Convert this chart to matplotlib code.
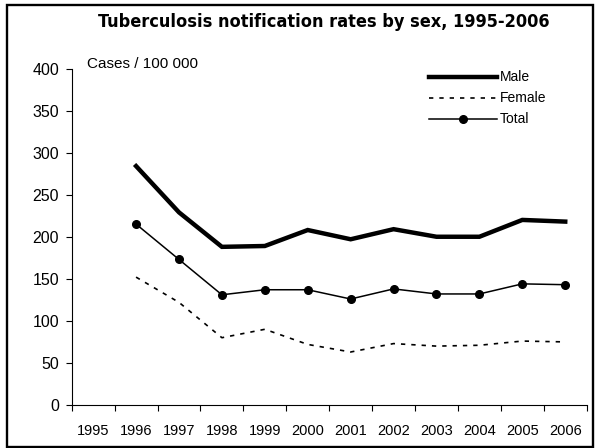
import matplotlib
matplotlib.use("Agg")
import matplotlib.pyplot as plt
from matplotlib.patches import Rectangle
from matplotlib.ticker import FixedLocator, NullFormatter

years = ["1995", "1996", "1997", "1998", "1999", "2000", "2001", "2002", "2003", "2004", "2005", "2006"]
data_years = ["1996", "1997", "1998", "1999", "2000", "2001", "2002", "2003", "2004", "2005", "2006"]
male = [284, 229, 188, 189, 208, 197, 209, 200, 200, 220, 218]
female = [152, 122, 80, 90, 72, 63, 73, 70, 71, 76, 75]
total = [215, 173, 131, 137, 137, 126, 138, 132, 132, 144, 143]

W, H = 595, 448
plt.rcParams['font.family'] = ['Liberation Sans', 'DejaVu Sans']

fig = plt.figure(figsize=(W/100, H/100), dpi=100)
ax = fig.add_axes([71.7/W, 1-405/H, 515/W, 336.5/H])

xi = [years.index(y) for y in data_years]
ax.plot(xi, male, color='black', lw=3.2, solid_joinstyle='miter', label='Male')
ax.plot(xi, female, color='black', lw=1.2, dashes=(2.6, 3.6), label='Female')
ax.plot(xi, total, color='black', lw=1.1, marker='o', markersize=5.5, label='Total')

ax.set_xlim(-0.5, len(years) - 0.5)
ax.set_ylim(0, 400)
ax.set_yticks(range(0, 401, 50))
ax.set_xticks(range(len(years)))
ax.set_xticklabels(years)
ax.tick_params(axis='x', which='major', length=0, pad=13.5, labelsize=10.5)
ax.xaxis.set_minor_locator(FixedLocator([i - 0.5 for i in range(len(years) + 1)]))
ax.xaxis.set_minor_formatter(NullFormatter())
ax.tick_params(axis='x', which='minor', length=4, width=0.8, direction='out')
ax.tick_params(axis='y', length=4, width=0.8, pad=5, labelsize=11.5)
for s in ['top', 'right']:
    ax.spines[s].set_visible(False)
for s in ['left', 'bottom']:
    ax.spines[s].set_linewidth(0.8)

fig.text(87/W, 1-64.5/H, "Cases / 100 000", fontsize=11, va='center', ha='left')

title = fig.text(323.5/W, 1-22/H, "Tuberculosis notification rates by sex, 1995-2006",
                 ha='center', va='center', fontsize=12.5, fontweight='bold',
                 fontstretch='condensed', family=['DejaVu Sans'])

leg = ax.legend(loc='upper left', bbox_to_anchor=(429/W, 1-70.5/H),
                bbox_transform=fig.transFigure, frameon=False, fontsize=10,
                handlelength=4.9, handletextpad=0.2, labelspacing=0.5,
                borderpad=0, borderaxespad=0)

# fit title width to the reference (about 453 px)
fig.canvas.draw()
r = fig.canvas.get_renderer()
bb = title.get_window_extent(r)
title.set_fontsize(12.5 * 453 / bb.width)

fig.patches.append(Rectangle((6.5/W, 1.5/H), 586.5/W, 441/H, transform=fig.transFigure,
                             fill=False, edgecolor='black', lw=1.7))

fig.savefig("out.png", dpi=100)
